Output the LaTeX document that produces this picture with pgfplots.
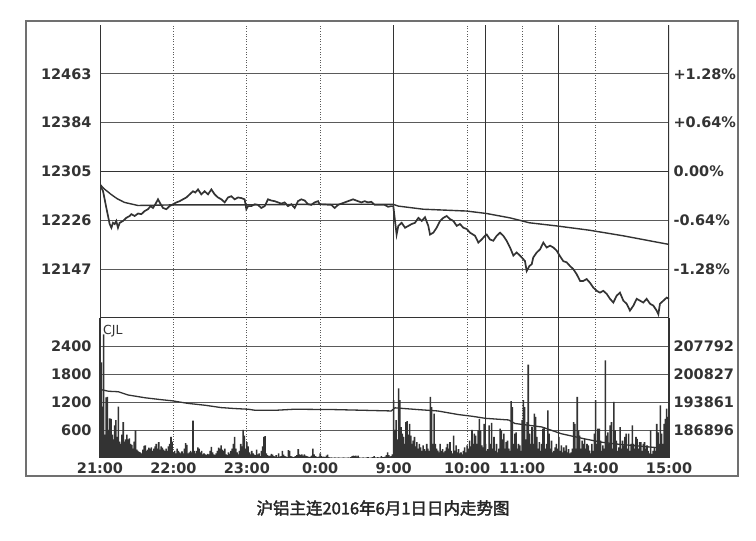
\documentclass[border=0pt]{standalone}
\usepackage{fontspec}
\setmainfont{DejaVu Sans}
\newfontfamily\cjk[AutoFakeBold=2.2]{Noto Sans CJK SC}
\usepackage{pgfplots}
\pgfplotsset{compat=1.18}

\definecolor{ink}{HTML}{333333}
\definecolor{gridc}{HTML}{5A5A5A}
\definecolor{frame}{HTML}{707070}

% shared geometry: minutes of trading from 21:00 (night 240, then 75+60+90)
\pgfplotsset{
  chartbase/.style={
    scale only axis, width=569bp,
    xmin=0, xmax=465,
    axis line style={draw=none},
    major tick length=0pt,
    scaled ticks=false,
    tick label style={font=\fontsize{14.5bp}{16bp}\selectfont\bfseries, text=ink},
    /pgf/number format/assume math mode=true,
  },
  timegrid/.style={
    xmajorgrids,
    major x grid style={gridc, line width=.8bp, dash pattern=on 1bp off 1.6bp},
    extra x tick style={grid=major,
      major grid style={solid, ink, line width=1.1bp},
      major x grid style={solid, ink, line width=1.1bp}},
  },
}

\begin{document}
\begin{tikzpicture}
\useasboundingbox (0,0) rectangle (756bp,541bp);
\draw[frame, line width=1.3bp] (26bp,65bp) rectangle (738bp,520bp);

% ---------- price panel ----------
\begin{axis}[chartbase, timegrid,
  at={(100bp,516bp)}, anchor=north west, height=293bp,
  ymin=12068, ymax=12542,
  xtick={60,120,180,300,345,405}, xticklabels={},
  extra x ticks={240,315,375}, extra x tick labels={},
  ytick={12147,12226,12384,12463}, yticklabels={12147,12226,12384,12463},
  extra y ticks={12305}, extra y tick labels={12305},
  ymajorgrids,
  major y grid style={gridc, line width=.9bp},
  extra y tick style={major y grid style={ink, line width=1.8bp}},
  yticklabel style={anchor=east, xshift=-5bp},
]
% average price
\addplot[ink, line width=1.4bp] coordinates {
(0,12284)(4,12276)(9,12268)(14,12261)(20,12255)(31,12250)(60,12251)(120,12251)
(180,12252)(239.4,12252)(243.8,12249)(264,12244)(299.7,12241)(316,12237)
(335,12230)(351,12222)(373,12217)(400,12210)(427.5,12201)(465,12187)};
% last price
\addplot[ink, line width=1.7bp] coordinates {
(0,12284)(2.5,12273)(5.2,12246)(7.9,12220)(9.3,12214)(10.6,12222)(12.0,12220)
(13.3,12225)(14.7,12214)(16.1,12222)(18.8,12225)(21.5,12230)(24.2,12233)
(25.6,12236)(28.3,12233)(31.1,12237)(33.8,12236)(36.5,12241)(39.2,12244)
(41.4,12249)(43.3,12246)(45.2,12252)(47.4,12260)(49.6,12252)(51.5,12246)
(54.2,12244)(56.9,12249)(59.7,12252)(62.4,12255)(65.1,12257)(67.8,12260)
(70.6,12263)(73.3,12268)(76.0,12273)(77.9,12271)(80.1,12276)(82.8,12268)
(85.5,12273)(88.3,12268)(91.0,12276)(93.7,12268)(96.4,12263)(99.2,12260)
(101.9,12255)(104.6,12263)(107.3,12265)(110.1,12260)(112.8,12263)(115.5,12262)
(118.2,12260)(119.6,12244)(121.0,12249)(123.7,12249)(126.4,12252)(129.1,12251)
(131.8,12246)(134.6,12249)(137.3,12260)(140.0,12258)(142.7,12257)(145.5,12255)
(148.2,12253)(150.9,12255)(153.6,12249)(156.4,12252)(159.1,12246)(161.8,12257)
(164.5,12260)(167.3,12258)(170.0,12252)(172.7,12251)(175.4,12255)(178.2,12257)
(179.5,12252)(189.0,12251)(191.8,12246)(194.5,12251)(200.0,12255)(202.7,12257)
(206.8,12260)(210.8,12257)(213.6,12255)(216.3,12257)(219.0,12255)(221.7,12256)
(224.5,12251)(232.6,12251)(235.4,12248)(238.1,12249)(239.7,12249)
(241.1,12225)(242.4,12203)(243.8,12217)(246.5,12222)(249.3,12214)(252.0,12217)
(254.7,12220)(257.4,12222)(260.2,12230)(262.9,12225)(265.6,12231)(268.3,12217)
(269.7,12203)(272.4,12206)(275.1,12214)(277.9,12225)(280.6,12230)(283.3,12233)
(286.0,12228)(288.8,12225)(291.5,12217)(294.2,12220)(296.9,12214)(299.7,12212)
(302.4,12206)(306.5,12201)(309.2,12190)(311.9,12195)(314.6,12201)(316.0,12203)
(318.7,12195)(321.4,12193)(324.2,12201)(326.9,12206)(329.6,12201)(332.3,12193)
(335.1,12182)(337.8,12169)(340.5,12174)(343.2,12169)(346.0,12163)(347.3,12160)
(348.7,12144)(350.9,12152)(352.8,12155)(354.1,12166)(356.9,12174)(359.6,12179)
(362.3,12190)(365.0,12182)(367.8,12185)(370.5,12182)(373.2,12177)(375.9,12168)
(378.6,12160)(381.4,12158)(384.1,12152)(386.8,12147)(389.5,12139)(392.3,12128)
(395.0,12128)(397.7,12131)(400.4,12125)(403.2,12117)(405.9,12112)(408.6,12109)
(411.3,12112)(414.1,12107)(416.8,12099)(419.5,12093)(422.2,12104)(424.9,12109)
(427.7,12096)(430.4,12091)(433.1,12080)(435.9,12088)(438.6,12099)(441.3,12096)
(444.0,12093)(446.7,12099)(449.5,12091)(452.2,12088)(454.9,12080)(456.3,12074)
(457.6,12091)(460.4,12096)(463.1,12101)(465,12099)};
\draw[ink, line width=1.4bp] (rel axis cs:0,0) -- (rel axis cs:0,1);
\draw[ink, line width=1.4bp] (rel axis cs:1,0) -- (rel axis cs:1,1);
\draw[ink, line width=1.8bp] (rel axis cs:0,0) -- (rel axis cs:1,0);
\end{axis}

% percentage scale on the right
\begin{axis}[chartbase,
  at={(100bp,516bp)}, anchor=north west, height=293bp,
  ymin=12068, ymax=12542, xtick=\empty,
  ytick={12147,12226,12305,12384,12463},
  yticklabels={-1.28\%,-0.64\%,0.00\%,+0.64\%,+1.28\%},
  yticklabel pos=right,
  yticklabel style={anchor=west, xshift=1bp},
]
\end{axis}

% ---------- volume panel ----------
\begin{axis}[chartbase, timegrid,
  at={(100bp,223bp)}, anchor=north west, height=140bp,
  ymin=0, ymax=3000,
  xtick={60,120,180,300,345,405},
  xticklabels={22:00,23:00,0:00,10:00,11:00,14:00},
  extra x ticks={0,240,465,315,375},
  extra x tick labels={21:00,9:00,15:00,,},
  ytick={600,1200,1800,2400}, yticklabels={600,1200,1800,2400},
  ymajorgrids,
  major y grid style={gridc, line width=.9bp},
  yticklabel style={anchor=east, xshift=-5bp},
  xticklabel style={yshift=-1bp},
]
\addplot[ybar, bar width=1.3, fill=ink, draw=none] coordinates {
(0,1520)(1,2050)(2,1100)(3,2650)(4,500)(5,1300)(6,1310)(7,600)(8,850)(9,840)
(10,500)(11,400)(12,700)(13,810)(14,450)(15,1100)(16,350)(17,300)(18,500)(19,770)
(20,350)(21,400)(22,500)(23,400)(24,420)(25,300)(26,280)(27,200)(28,350)(29,590)
(30,180)(31,150)(32,130)(33,120)(34,100)(35,180)(36,260)(37,270)(38,150)(39,180)
(40,220)(41,200)(42,230)(43,150)(44,200)(45,250)(46,300)(47,200)(48,340)(49,180)
(50,250)(51,220)(52,180)(53,150)(54,200)(55,150)(56,250)(57,300)(58,450)(59,350)
(60,120)(61,150)(62,100)(63,200)(64,150)(65,120)(66,100)(67,140)(68,100)(69,200)
(70,320)(71,280)(72,100)(73,120)(74,150)(75,120)(76,800)(77,150)(78,100)(79,150)
(80,230)(81,200)(82,120)(83,150)(84,80)(85,100)(86,80)(87,60)(88,90)(89,80)
(90,150)(91,240)(92,120)(93,80)(94,60)(95,100)(96,150)(97,220)(98,200)(99,270)
(100,180)(101,150)(102,200)(103,80)(104,60)(105,120)(106,90)(107,150)(108,200)(109,300)
(110,450)(111,200)(112,120)(113,80)(114,150)(115,300)(116,250)(117,600)(118,480)(119,200)
(120,340)(121,250)(122,120)(123,80)(124,150)(125,100)(126,70)(127,60)(128,180)(129,80)
(130,100)(131,40)(132,150)(133,250)(134,450)(135,470)(136,100)(137,60)(138,40)(139,50)
(140,90)(141,70)(142,40)(143,30)(144,60)(145,20)(146,100)(147,30)(148,40)(149,150)
(150,70)(151,40)(152,30)(153,20)(154,170)(155,150)(156,40)(157,30)(158,20)(159,30)
(160,40)(161,60)(162,190)(163,80)(164,60)(165,80)(166,50)(167,80)(168,50)(169,40)
(170,30)(171,20)(172,30)(173,50)(174,200)(175,80)(176,40)(177,30)(178,20)(179,30)
(180,100)(181,40)(182,20)(183,30)(184,20)(185,50)(186,70)(187,20)(188,10)(189,15)
(190,10)(191,10)(192,15)(193,10)(194,10)(195,15)(196,10)(197,10)(198,10)(199,15)
(200,10)(201,10)(202,10)(203,15)(204,10)(205,20)(206,40)(207,50)(208,40)(209,50)
(210,30)(211,50)(212,15)(213,10)(214,10)(215,15)(216,10)(217,10)(218,15)(219,20)
(220,10)(221,10)(222,15)(223,20)(224,40)(225,15)(226,10)(227,20)(228,10)(229,15)
(230,40)(231,20)(232,20)(233,30)(234,60)(235,120)(236,60)(237,30)(238,40)(239,80)
(240,1240)(241,600)(242,810)(243,400)(244,1490)(245,1240)(246,660)(247,520)(248,450)(249,300)
(250,770)(251,790)(252,500)(253,730)(254,480)(255,300)(256,370)(257,450)(258,250)(259,340)
(260,200)(261,300)(262,230)(263,150)(264,270)(265,190)(266,150)(267,300)(268,200)(269,150)
(270,1310)(271,1090)(272,300)(273,950)(274,300)(275,200)(276,160)(277,120)(278,300)(279,150)
(280,190)(281,120)(282,150)(283,230)(284,300)(285,200)(286,340)(287,150)(288,100)(289,480)
(290,160)(291,270)(292,120)(293,190)(294,100)(295,120)(296,80)(297,150)(298,230)(299,120)
(300,270)(301,200)(302,370)(303,250)(304,600)(305,300)(306,520)(307,480)(308,300)(309,590)
(310,840)(311,590)(312,270)(313,230)(314,730)(315,300)(316,150)(317,190)(318,700)(319,300)
(320,750)(321,200)(322,450)(323,150)(324,300)(325,120)(326,200)(327,630)(328,590)(329,400)
(330,520)(331,200)(332,340)(333,370)(334,200)(335,150)(336,1220)(337,1090)(338,300)(339,520)
(340,550)(341,200)(342,300)(343,270)(344,150)(345,810)(346,1240)(347,1090)(348,400)(349,770)
(350,2000)(351,520)(352,300)(353,660)(354,300)(355,950)(356,880)(357,450)(358,200)(359,340)
(360,150)(361,300)(362,630)(363,660)(364,200)(365,300)(366,1020)(367,520)(368,200)(369,370)
(370,120)(371,150)(372,230)(373,300)(374,200)(375,450)(376,150)(377,270)(378,120)(379,230)
(380,150)(381,270)(382,120)(383,190)(384,100)(385,120)(386,200)(387,770)(388,730)(389,200)
(390,1310)(391,590)(392,480)(393,200)(394,370)(395,300)(396,410)(397,200)(398,300)(399,270)
(400,160)(401,100)(402,300)(403,150)(404,520)(405,1240)(406,300)(407,630)(408,630)(409,370)
(410,150)(411,270)(412,200)(413,2090)(414,480)(415,550)(416,300)(417,700)(418,770)(419,200)
(420,1200)(421,590)(422,370)(423,150)(424,230)(425,660)(426,200)(427,370)(428,270)(429,450)
(430,520)(431,200)(432,520)(433,150)(434,300)(435,700)(436,300)(437,200)(438,450)(439,410)
(440,200)(441,340)(442,340)(443,150)(444,300)(445,340)(446,200)(447,270)(448,150)(449,100)
(450,590)(451,90)(452,150)(453,230)(454,150)(455,730)(456,550)(457,300)(458,1130)(459,520)
(460,300)(461,730)(462,840)(463,1060)(464,880)};
\draw[ink, line width=1.4bp] (rel axis cs:0,0) -- (rel axis cs:0,1);
\draw[ink, line width=1.4bp] (rel axis cs:1,0) -- (rel axis cs:1,1);
\draw[ink, line width=.8bp] (rel axis cs:0,0) -- (rel axis cs:1,0);
\end{axis}

% open interest on the right scale
\begin{axis}[chartbase,
  at={(100bp,223bp)}, anchor=north west, height=140bp,
  ymin=179930.7, ymax=214757.3, xtick=\empty,
  ytick={186896,193861,200827,207792},
  yticklabels={186896,193861,200827,207792},
  yticklabel pos=right,
  yticklabel style={anchor=west, xshift=1bp},
]
\addplot[ink, line width=1.3bp] coordinates {
(0,196996)(7,196532)(15,196416)(23,195603)(37,194907)(50,194442)(59,194153)
(72,193513)(86,193049)(99,192469)(110,192236)(121,192062)(127,191795)
(143,191795)(159,192062)(192,191970)(216,191795)(238,191633)(241,192411)
(260,191970)(276,191633)(293,190727)(304,190317)(315,189799)(334,189392)
(339,188522)(361,187651)(377,185968)(396,184691)(410,183855)(421,183437)
(443,182833)(465,182253)};
\end{axis}

\node[anchor=north west, inner sep=0, text=ink,
  font=\fontsize{12.5bp}{13bp}\selectfont] at (103bp,216bp) {CJL};
\node[font=\cjk\bfseries\fontsize{16.5bp}{18bp}\selectfont, text=black!85]
  at (383bp,33bp) {沪铝主连2016年6月1日日内走势图};
\end{tikzpicture}
\end{document}
